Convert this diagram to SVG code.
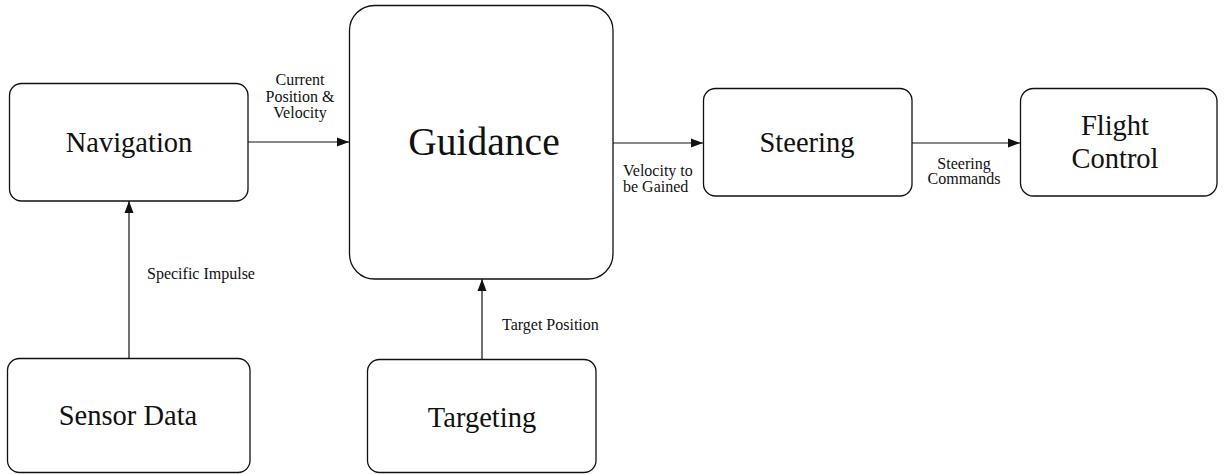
<svg xmlns="http://www.w3.org/2000/svg" width="1225" height="474" viewBox="0 0 1225 474">
<style>
.box{fill:#fff;stroke:#111;stroke-width:1.3}
.t{font-family:"Liberation Serif","Times New Roman",serif;fill:#111;text-anchor:middle}
.big{font-size:28.5px}
.huge{font-size:39.5px}
.lbl{font-family:"Liberation Serif","Times New Roman",serif;fill:#111;font-size:16px}
.c{text-anchor:middle}
.edge{stroke:#111;stroke-width:1.2;fill:none;marker-end:url(#ah)}
</style>
<defs>
<marker id="ah" markerUnits="userSpaceOnUse" markerWidth="14" markerHeight="10" refX="12" refY="5" orient="auto">
<path d="M0,0.5 L12,5 L0,9.5 Z" fill="#111"/>
</marker>
</defs>
<rect width="1225" height="474" fill="#fff"/>
<g id="connectors">
<line class="edge" x1="248" y1="142" x2="349" y2="142"/>
<line class="edge" x1="613" y1="143" x2="703" y2="143"/>
<line class="edge" x1="912" y1="143" x2="1020" y2="143"/>
<line class="edge" x1="129" y1="358" x2="129" y2="201"/>
<line class="edge" x1="482" y1="359" x2="482" y2="279"/>
<text class="lbl c" x="300" y="85">Current</text>
<text class="lbl c" x="300" y="102">Position &amp;</text>
<text class="lbl c" x="300" y="118">Velocity</text>
<text class="lbl" x="623" y="176">Velocity to</text>
<text class="lbl" x="623" y="192">be Gained</text>
<text class="lbl c" x="964" y="169">Steering</text>
<text class="lbl c" x="964" y="184">Commands</text>
<text class="lbl" x="147" y="279">Specific Impulse</text>
<text class="lbl" x="502" y="330">Target Position</text>
</g>
<g id="navigation">
<rect class="box" x="9.5" y="83.5" width="238.5" height="117.5" rx="12"/>
<text class="t big" x="129" y="152">Navigation</text>
</g>
<g id="guidance">
<rect class="box" x="349.5" y="5.5" width="263.5" height="273.5" rx="25"/>
<text class="t huge" x="484" y="155">Guidance</text>
</g>
<g id="steering">
<rect class="box" x="703.5" y="88.5" width="208.5" height="107.5" rx="12"/>
<text class="t big" x="807" y="152">Steering</text>
</g>
<g id="flight-control">
<rect class="box" x="1020.5" y="88.5" width="196.5" height="107.5" rx="13"/>
<text class="t big" x="1115" y="135">Flight</text>
<text class="t big" x="1115" y="168">Control</text>
</g>
<g id="sensor-data">
<rect class="box" x="7.5" y="358.5" width="242.5" height="114" rx="12"/>
<text class="t big" x="128" y="425">Sensor Data</text>
</g>
<g id="targeting">
<rect class="box" x="367.5" y="359.5" width="228.5" height="113" rx="12"/>
<text class="t big" x="482" y="427">Targeting</text>
</g>
</svg>
